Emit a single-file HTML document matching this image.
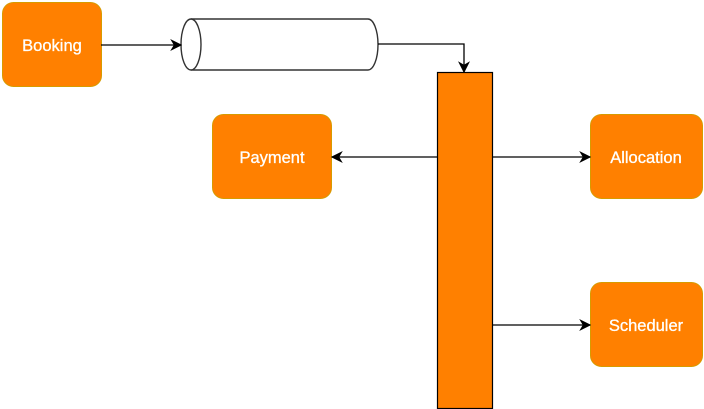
<!DOCTYPE html>
<html><head><style>html,body{margin:0;padding:0;background:#fff;width:704px;height:409px;overflow:hidden}</style></head>
<body>
<svg width="704" height="409" viewBox="0 0 704 409" xmlns="http://www.w3.org/2000/svg" font-family="Liberation Sans, Arial, sans-serif">
<defs><marker id="a" viewBox="0 0 10 10" refX="9" refY="5" markerWidth="12" markerHeight="12" markerUnits="userSpaceOnUse" orient="auto"><path d="M0,0 L10,5 L0,10 L3,5 Z" fill="#000"/></marker></defs>
<g fill="#FF8000" stroke="#D79B00" stroke-width="1">
<rect x="2.5" y="2.5" width="99" height="84" rx="11"/>
<rect x="212.5" y="114.5" width="119" height="84" rx="11"/>
<rect x="590.5" y="114.5" width="112" height="84" rx="11"/>
<rect x="590.5" y="282.5" width="112" height="84" rx="11"/>
</g>
<rect x="437.5" y="72.5" width="55" height="336" fill="#FF8000" stroke="#000" stroke-width="1.2"/>
<path d="M191,19 L368,19 A10,25.5 0 0 1 368,70 L191,70" fill="#fff" stroke="#333" stroke-width="1.4"/>
<ellipse cx="191" cy="44.5" rx="10" ry="25.5" fill="#fff" stroke="#333" stroke-width="1.4"/>
<g stroke="#000" stroke-width="1.3" fill="none">
<path d="M101,45 L181,45" marker-end="url(#a)"/>
<path d="M378,44 L464,44 L464,72" marker-end="url(#a)"/>
<path d="M437,157 L332,157" marker-end="url(#a)"/>
<path d="M493,157 L590,157" marker-end="url(#a)"/>
<path d="M493,325 L590,325" marker-end="url(#a)"/>
</g>
<g fill="#fff" font-size="16.5" text-anchor="middle" stroke="#fff" stroke-width="0.3">
<text x="52" y="51">Booking</text>
<text x="272" y="163">Payment</text>
<text x="646" y="163">Allocation</text>
<text x="646" y="331">Scheduler</text>
</g>
</svg>
</body></html>
